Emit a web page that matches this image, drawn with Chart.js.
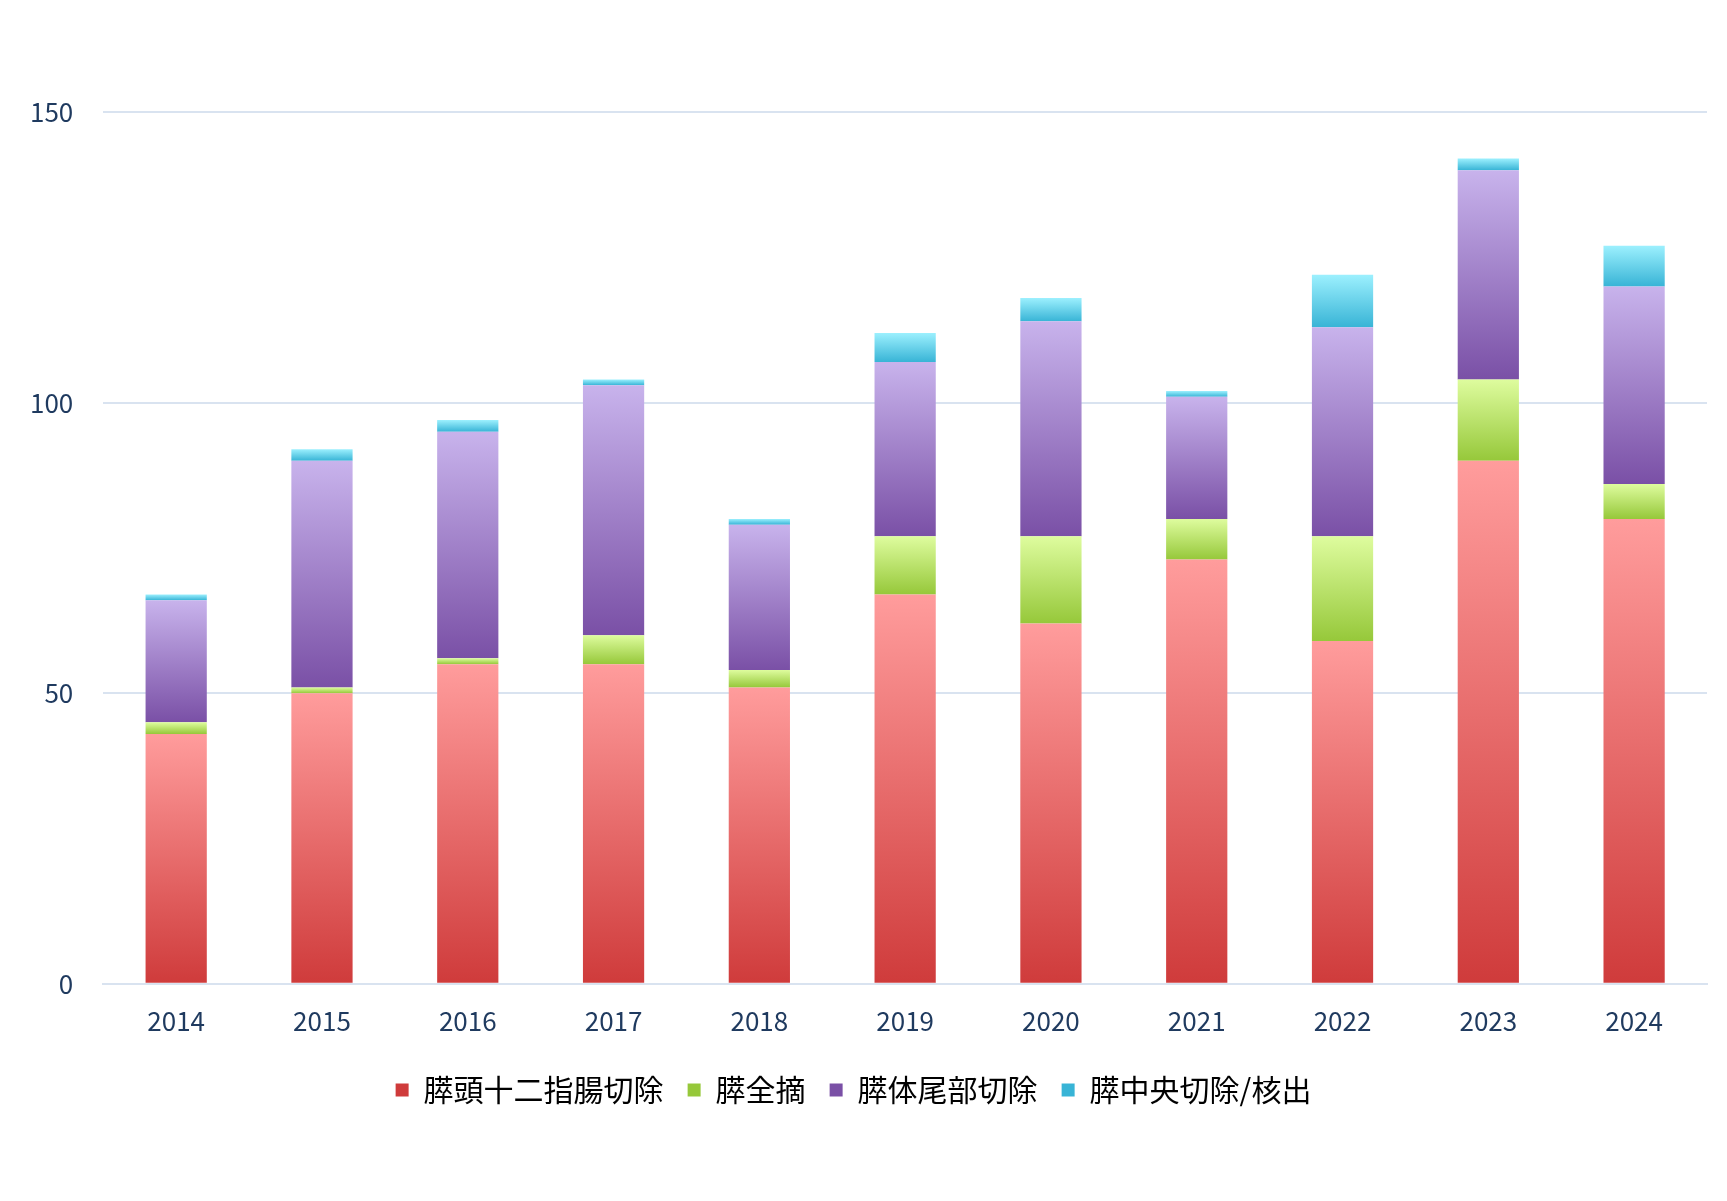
<!DOCTYPE html>
<html><head><meta charset="utf-8">
<script src="https://cdn.jsdelivr.net/npm/chart.js@4"></script>
<style>html,body{margin:0;background:#fff}#w{width:1727px;height:1201px}</style>
</head><body><div id="w"><canvas id="c"></canvas></div>
<script>
const categories=['2014','2015','2016','2017','2018','2019','2020','2021','2022','2023','2024'];
const pd=[43,50,55,55,51,67,62,73,59,90,80];
const tp=[2,1,1,5,3,10,15,7,18,14,6];
const dp=[21,39,39,43,25,30,37,21,36,36,34];
const cp=[1,2,2,1,1,5,4,1,9,2,7];
const seriesNames=['膵頭十二指腸切除','膵全摘','膵体尾部切除','膵中央切除/核出'];
const series=[pd,tp,dp,cp];
const cols=[['#cf3b3b','#ff9c9c'],['#96c83a','#defc9e'],['#7a50a6','#c8b3ec'],['#38b4d6','#9cf0fe']];
function grad(ctx,si){
  const ch=ctx.chart, y=ch.scales.y, i=ctx.dataIndex;
  if(!y||i===undefined) return cols[si][1];
  let base=0; for(let k=0;k<si;k++) base+=series[k][i];
  const top=base+series[si][i];
  const y0=y.getPixelForValue(base), y1=y.getPixelForValue(top);
  if(!isFinite(y0)||!isFinite(y1)||y0===y1) return cols[si][1];
  const g=ch.ctx.createLinearGradient(0,y0,0,y1);
  g.addColorStop(0,cols[si][0]); g.addColorStop(1,cols[si][1]); return g;
}
const font="'Noto Sans CJK JP','Noto Sans',sans-serif";
new Chart(document.getElementById('c'),{type:'bar',
data:{labels:categories,datasets:series.map((d,si)=>({label:seriesNames[si],data:d,
  backgroundColor:c=>grad(c,si),borderWidth:0,barPercentage:0.42,categoryPercentage:1}))},
options:{responsive:true,maintainAspectRatio:false,animation:false,
 layout:{padding:{left:0,right:20,top:54,bottom:86}},
 plugins:{legend:{position:'bottom',labels:{boxWidth:13,boxHeight:13,color:'#8a8a8a',padding:24,
   font:{family:font,size:30},generateLabels:ch=>seriesNames.map((n,si)=>({text:n,fillStyle:cols[si][0],strokeStyle:cols[si][0],lineWidth:0,datasetIndex:si}))}},
  tooltip:{enabled:false}},
 scales:{x:{stacked:true,grid:{display:false},border:{color:'#d9e3f0',width:2},
   ticks:{color:'#1f3a5f',font:{family:font,size:26},padding:14}},
  y:{stacked:true,min:0,max:160,afterBuildTicks:a=>{a.ticks=[0,50,100,150].map(v=>({value:v}))},
   grid:{color:'#d9e3f0',lineWidth:2,drawTicks:false},border:{display:false},
   ticks:{color:'#1f3a5f',font:{family:font,size:26},padding:30}}}}});
</script></body></html>
